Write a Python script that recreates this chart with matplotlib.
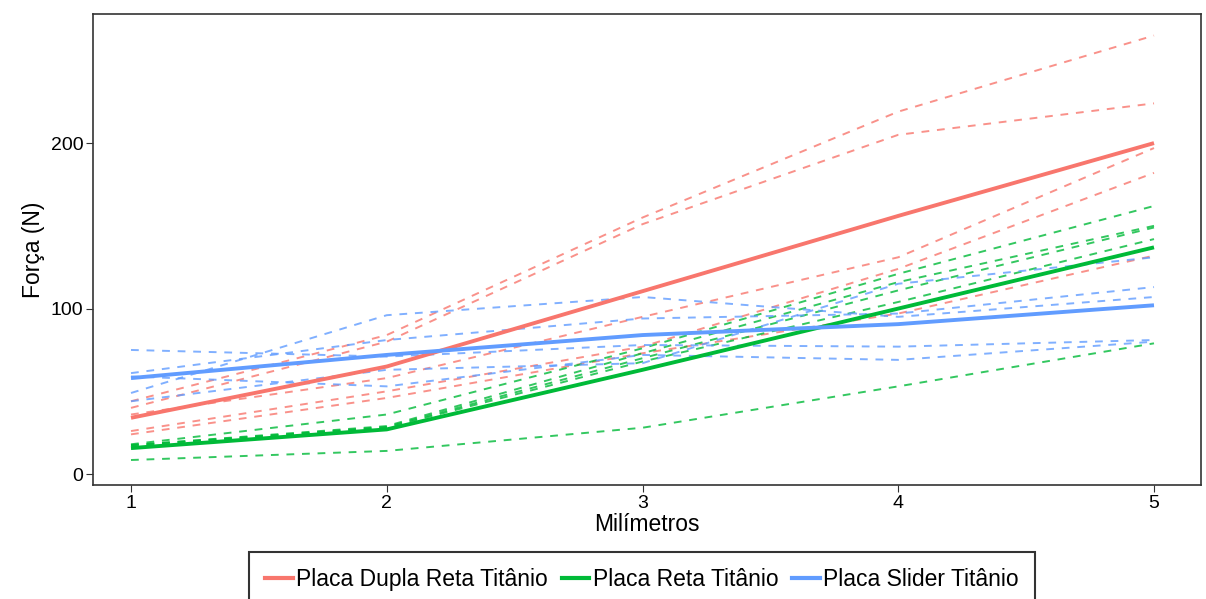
import numpy as np
import matplotlib
matplotlib.use('Agg')
import matplotlib.pyplot as plt
from matplotlib.lines import Line2D

plt.rcParams['font.family'] = ['Liberation Sans', 'DejaVu Sans']

mm = [1, 2, 3, 4, 5]

# individual samples (dashed)
dupla = [
    [44, 84, 155, 219, 265],
    [40, 80, 151, 205, 224],
    [36, 58, 95, 131, 197],
    [26, 50, 77, 124, 182],
    [24, 46, 73, 97, 132],
]
reta = [
    [18, 36, 76, 121, 162],
    [17.5, 29, 73, 116, 150],
    [17, 28.5, 70, 111, 149],
    [17.5, 28, 68, 104, 142],
    [8.5, 14, 28, 53, 79],
]
slider = [
    [49, 96, 107, 95, 107],
    [61, 81, 94, 97, 113],
    [44, 63, 67, 115, 131],
    [75, 71, 78, 77, 81],
    [59, 53, 72, 69, 80],
]

# group means (solid)
dupla_media = [34, 65, 110.5, 156, 200]
reta_media = [15.7, 27, 63, 100, 137]
slider_media = [58, 72, 84, 90.6, 102]

grupos = ['Placa Dupla Reta Titânio', 'Placa Reta Titânio', 'Placa Slider Titânio']
cores = ['#F8766D', '#00BA38', '#619CFF']

fig = plt.figure(figsize=(12.06, 5.99), dpi=100)
ax = fig.add_axes([93/1206, 1-485/599, (1201-93)/1206, (485-14)/599])

for amostras, cor in zip([dupla, reta, slider], cores):
    for a in amostras:
        ax.plot(mm, a, color=cor, lw=1.4, ls=(0, (4, 4)), alpha=0.8)

for media, cor in zip([dupla_media, reta_media, slider_media], cores):
    ax.plot(mm, media, color=cor, lw=2.8, solid_capstyle='butt')

ax.set_xlim(1 - 38/255.75, 5 + 47/255.75)
ax.set_ylim(-6.6, 278)
ax.set_xticks(mm)
ax.set_yticks([0, 100, 200])
ax.tick_params(labelsize=14, length=5, width=0.8, pad=2, color='#333333', labelcolor='black')
for s in ax.spines.values():
    s.set_color('#333333')
    s.set_linewidth(1.2)
ax.set_xlabel('Milímetros', fontsize=16.5, labelpad=1)
ax.set_ylabel('Força (N)', fontsize=16.5, labelpad=4)

handles = [Line2D([0], [0], color=c, lw=3) for c in cores]
leg = fig.legend(handles, grupos, loc='upper center', bbox_to_anchor=(642/1206, 1-552/599),
                 ncol=3, fontsize=16.5, frameon=True, fancybox=False, handlelength=1.2,
                 handletextpad=0.15, columnspacing=0.6, borderpad=0.7, borderaxespad=0)
leg.get_frame().set_edgecolor('black')
leg.get_frame().set_linewidth(1.5)

fig.savefig('out.png', dpi=100)
